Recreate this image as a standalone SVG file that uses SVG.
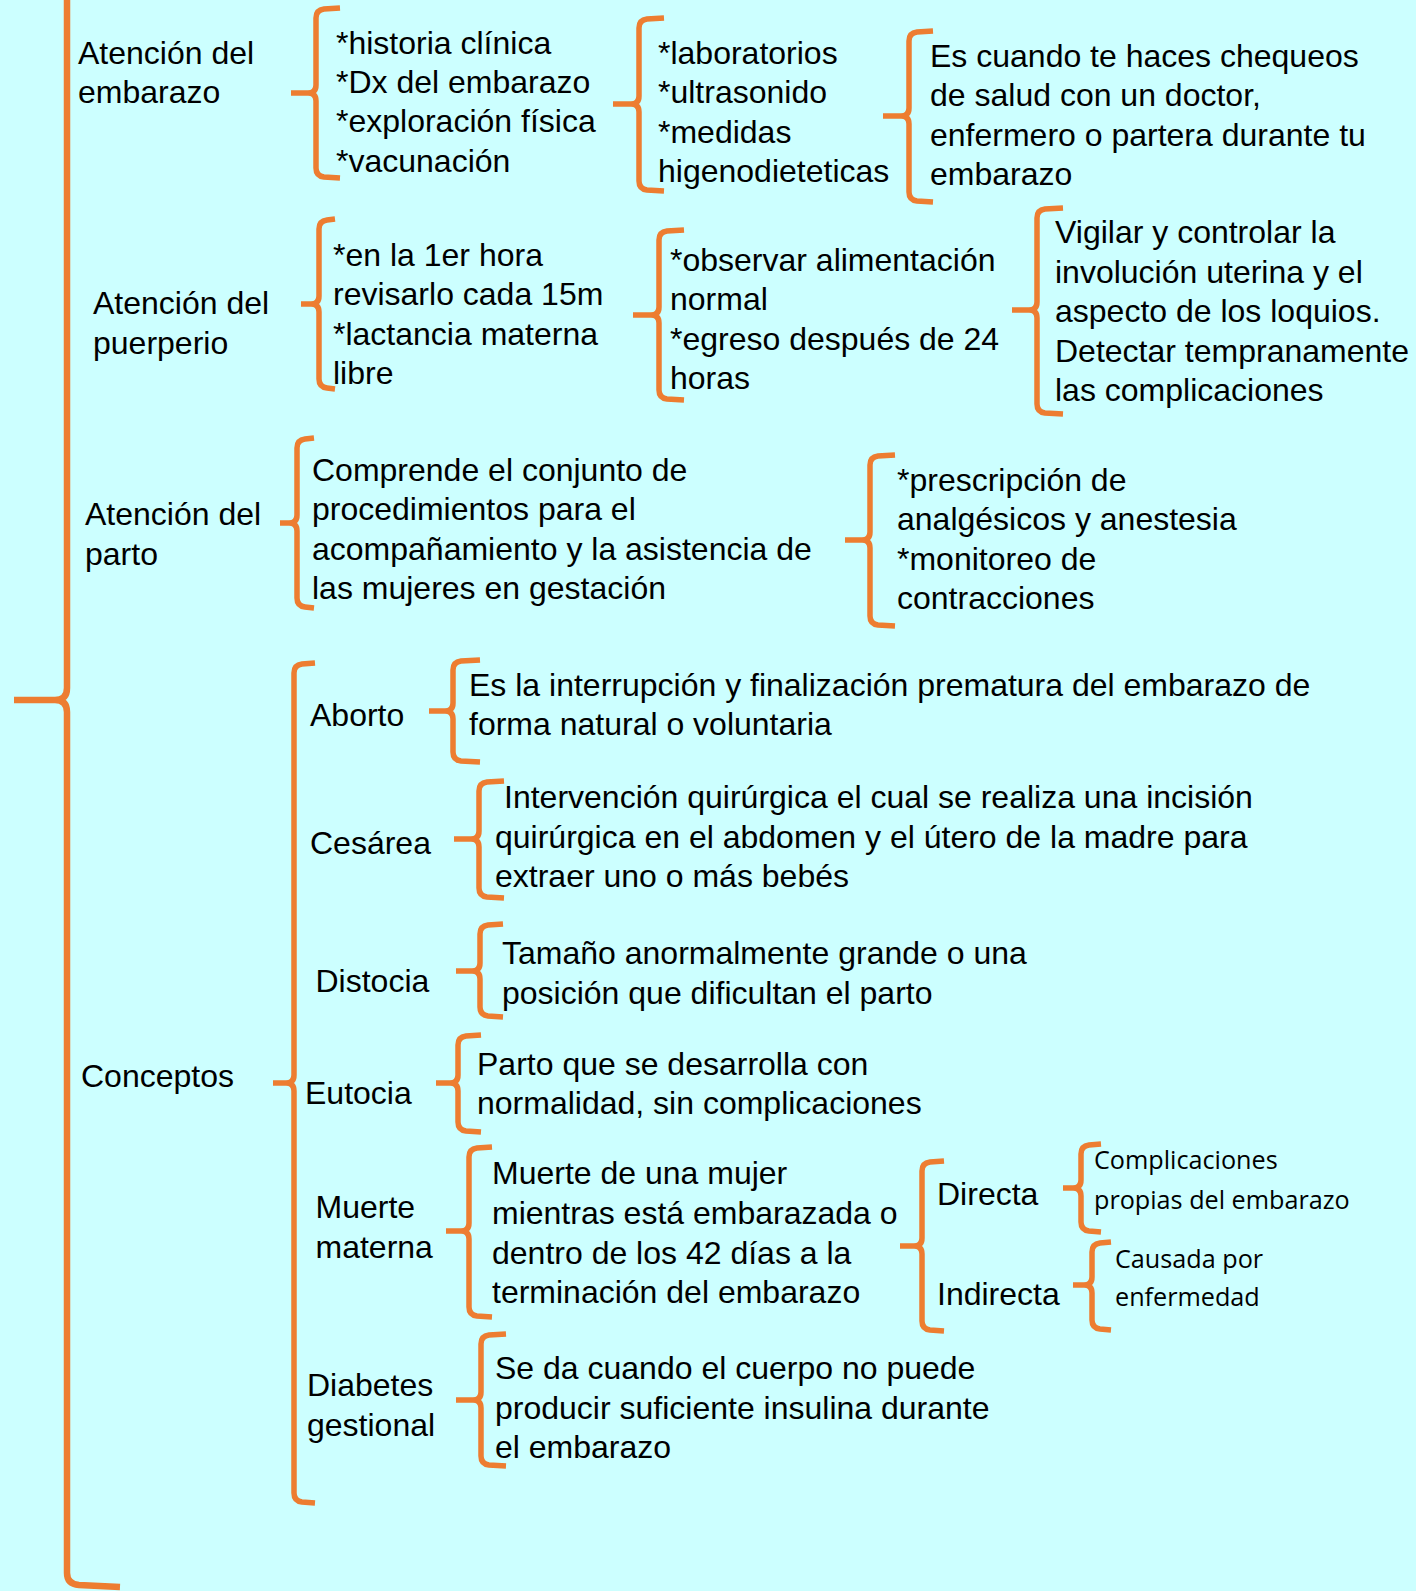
<svg xmlns="http://www.w3.org/2000/svg" width="1416" height="1591" viewBox="0 0 1416 1591">
<style>
.t{font-family:"Liberation Sans",Arial,sans-serif;font-size:32px;fill:#000}
.s{font-family:"Open Sans","Noto Sans",sans-serif;font-size:25.2px;fill:#000}
.b{fill:none;stroke:#ED7D31;stroke-width:5.5}
.m{fill:none;stroke:#ED7D31;stroke-width:6.5}
</style>
<rect x="0" y="0" width="1416" height="1591" fill="#CCFFFF"/>
<g id="connectors">
<path class="m" d="M67 -10 L67 688 Q67 700 55 700 L14 700 M14 700 L55 700 Q67 700 67 712 L67 1573 Q67 1584 79 1585 L120 1587"/>
<path class="b" d="M340 8 L324 9 Q316 10 316 18 L316 85 Q316 93 308 93 L291 93 M291 93 L308 93 Q316 93 316 101 L316 168 Q316 176 324 177 L340 178"/>
<path class="b" d="M664 18 L647 19 Q639 20 639 28 L639 96 Q639 104 631 104 L613 104 M613 104 L631 104 Q639 104 639 112 L639 181 Q639 189 647 190 L664 191"/>
<path class="b" d="M933 31 L917 32 Q909 33 909 41 L909 108 Q909 116 901 116 L883 116 M883 116 L901 116 Q909 116 909 124 L909 192 Q909 200 917 201 L933 202"/>
<path class="b" d="M335 219 L327 220 Q319 221 319 229 L319 296 Q319 304 311 304 L301 304 M301 304 L311 304 Q319 304 319 312 L319 379 Q319 387 327 388 L335 389"/>
<path class="b" d="M684 230 L667 231 Q659 232 659 240 L659 307 Q659 315 651 315 L633 315 M633 315 L651 315 Q659 315 659 323 L659 390 Q659 398 667 399 L684 400"/>
<path class="b" d="M1063 208 L1045 209 Q1037 210 1037 218 L1037 302 Q1037 310 1029 310 L1012 310 M1012 310 L1029 310 Q1037 310 1037 318 L1037 404 Q1037 412 1045 413 L1063 414"/>
<path class="b" d="M314 438 L305 439 Q297 440 297 448 L297 515 Q297 523 289 523 L280 523 M280 523 L289 523 Q297 523 297 531 L297 598 Q297 606 305 607 L314 608"/>
<path class="b" d="M895 455 L878 456 Q870 457 870 465 L870 532 Q870 540 862 540 L845 540 M845 540 L862 540 Q870 540 870 548 L870 616 Q870 624 878 625 L895 626"/>
<path class="b" d="M315 663 L302 664 Q294 665 294 673 L294 1075 Q294 1083 286 1083 L273 1083 M273 1083 L286 1083 Q294 1083 294 1091 L294 1493 Q294 1501 302 1502 L315 1503"/>
<path class="b" d="M480 660 L461 661 Q453 662 453 670 L453 703 Q453 711 445 711 L429 711 M429 711 L445 711 Q453 711 453 719 L453 752 Q453 760 461 761 L480 762"/>
<path class="b" d="M504 781 L487 782 Q479 783 479 791 L479 831 Q479 839 471 839 L454 839 M454 839 L471 839 Q479 839 479 847 L479 888 Q479 896 487 897 L504 898"/>
<path class="b" d="M503 924 L488 925 Q480 926 480 934 L480 963 Q480 971 472 971 L456 971 M456 971 L472 971 Q480 971 480 979 L480 1007 Q480 1015 488 1016 L503 1017"/>
<path class="b" d="M481 1035 L466 1036 Q458 1037 458 1045 L458 1075 Q458 1083 450 1083 L436 1083 M436 1083 L450 1083 Q458 1083 458 1091 L458 1122 Q458 1130 466 1131 L481 1132"/>
<path class="b" d="M492 1147 L477 1148 Q469 1149 469 1157 L469 1223 Q469 1231 461 1231 L446 1231 M446 1231 L461 1231 Q469 1231 469 1239 L469 1307 Q469 1315 477 1316 L492 1317"/>
<path class="b" d="M944 1161 L930 1162 Q922 1163 922 1171 L922 1238 Q922 1246 914 1246 L900 1246 M900 1246 L914 1246 Q922 1246 922 1254 L922 1321 Q922 1329 930 1330 L944 1331"/>
<path class="b" d="M1101 1144 L1089 1145 Q1081 1146 1081 1154 L1081 1180 Q1081 1188 1073 1188 L1063 1188 M1063 1188 L1073 1188 Q1081 1188 1081 1196 L1081 1222 Q1081 1230 1089 1231 L1101 1232"/>
<path class="b" d="M1111 1242 L1100 1243 Q1092 1244 1092 1252 L1092 1277 Q1092 1285 1084 1285 L1073 1285 M1073 1285 L1084 1285 Q1092 1285 1092 1293 L1092 1320 Q1092 1328 1100 1329 L1111 1330"/>
<path class="b" d="M506 1334 L489 1335 Q481 1336 481 1344 L481 1392 Q481 1400 473 1400 L456 1400 M456 1400 L473 1400 Q481 1400 481 1408 L481 1456 Q481 1464 489 1465 L506 1466"/>
</g>
<g id="nodes" transform="translate(0,1.5)">
<g id="atencion-embarazo"><text class="t"><tspan x="78" y="62">Atención del</tspan><tspan x="78" y="101">embarazo</tspan></text></g>
<g id="embarazo-lista1"><text class="t"><tspan x="336" y="52">*historia clínica</tspan><tspan x="336" y="91">*Dx del embarazo</tspan><tspan x="336" y="130.5">*exploración física</tspan><tspan x="336" y="170">*vacunación</tspan></text></g>
<g id="embarazo-lista2"><text class="t"><tspan x="658" y="62">*laboratorios</tspan><tspan x="658" y="101">*ultrasonido</tspan><tspan x="658" y="141">*medidas</tspan><tspan x="658" y="180.5">higenodieteticas</tspan></text></g>
<g id="embarazo-desc"><text class="t"><tspan x="930" y="65">Es cuando te haces chequeos</tspan><tspan x="930" y="104.5">de salud con un doctor,</tspan><tspan x="930" y="144">enfermero o partera durante tu</tspan><tspan x="930" y="183">embarazo</tspan></text></g>
<g id="atencion-puerperio"><text class="t"><tspan x="93" y="312">Atención del</tspan><tspan x="93" y="352">puerperio</tspan></text></g>
<g id="puerperio-lista1"><text class="t"><tspan x="333" y="264">*en la 1er hora</tspan><tspan x="333" y="303">revisarlo cada 15m</tspan><tspan x="333" y="343">*lactancia materna</tspan><tspan x="333" y="382">libre</tspan></text></g>
<g id="puerperio-lista2"><text class="t"><tspan x="670" y="269">*observar alimentación</tspan><tspan x="670" y="308">normal</tspan><tspan x="670" y="348">*egreso después de 24</tspan><tspan x="670" y="387">horas</tspan></text></g>
<g id="puerperio-desc"><text class="t"><tspan x="1055" y="241">Vigilar y controlar la</tspan><tspan x="1055" y="281">involución uterina y el</tspan><tspan x="1055" y="320.5">aspecto de los loquios.</tspan><tspan x="1055" y="360">Detectar tempranamente</tspan><tspan x="1055" y="399.5">las complicaciones</tspan></text></g>
<g id="atencion-parto"><text class="t"><tspan x="85" y="523">Atención del</tspan><tspan x="85" y="563">parto</tspan></text></g>
<g id="parto-desc"><text class="t"><tspan x="312" y="479">Comprende el conjunto de</tspan><tspan x="312" y="518">procedimientos para el</tspan><tspan x="312" y="558">acompañamiento y la asistencia de</tspan><tspan x="312" y="597">las mujeres en gestación</tspan></text></g>
<g id="parto-lista"><text class="t"><tspan x="897" y="489">*prescripción de</tspan><tspan x="897" y="528">analgésicos y anestesia</tspan><tspan x="897" y="568">*monitoreo de</tspan><tspan x="897" y="607.5">contracciones</tspan></text></g>
<g id="conceptos"><text class="t" x="81" y="1085">Conceptos</text></g>
<g id="aborto"><text class="t" x="310" y="724">Aborto</text></g>
<g id="aborto-desc"><text class="t"><tspan x="469" y="694">Es la interrupción y finalización prematura del embarazo de</tspan><tspan x="469" y="733">forma natural o voluntaria</tspan></text></g>
<g id="cesarea"><text class="t" x="310" y="852">Cesárea</text></g>
<g id="cesarea-desc"><text class="t"><tspan x="504" y="806">Intervención quirúrgica el cual se realiza una incisión</tspan><tspan x="495" y="846">quirúrgica en el abdomen y el útero de la madre para</tspan><tspan x="495" y="885.5">extraer uno o más bebés</tspan></text></g>
<g id="distocia"><text class="t" x="315.5" y="990">Distocia</text></g>
<g id="distocia-desc"><text class="t"><tspan x="502" y="962.5">Tamaño anormalmente grande o una</tspan><tspan x="502" y="1002">posición que dificultan el parto</tspan></text></g>
<g id="eutocia"><text class="t" x="305" y="1102">Eutocia</text></g>
<g id="eutocia-desc"><text class="t"><tspan x="477" y="1073">Parto que se desarrolla con</tspan><tspan x="477" y="1112.5">normalidad, sin complicaciones</tspan></text></g>
<g id="muerte-materna"><text class="t"><tspan x="315.5" y="1216">Muerte</tspan><tspan x="315.5" y="1256">materna</tspan></text></g>
<g id="muerte-desc"><text class="t"><tspan x="492" y="1182.5">Muerte de una mujer</tspan><tspan x="492" y="1222">mientras está embarazada o</tspan><tspan x="492" y="1262">dentro de los 42 días a la</tspan><tspan x="492" y="1301">terminación del embarazo</tspan></text></g>
<g id="directa"><text class="t" x="937" y="1203">Directa</text></g>
<g id="indirecta"><text class="t" x="937" y="1303">Indirecta</text></g>
<g id="directa-desc"><text class="s"><tspan x="1094" y="1167">Complicaciones</tspan><tspan x="1094" y="1207">propias del embarazo</tspan></text></g>
<g id="indirecta-desc"><text class="s"><tspan x="1115" y="1266">Causada por</tspan><tspan x="1115" y="1304">enfermedad</tspan></text></g>
<g id="diabetes"><text class="t"><tspan x="307" y="1394.5">Diabetes</tspan><tspan x="307" y="1434">gestional</tspan></text></g>
<g id="diabetes-desc"><text class="t"><tspan x="495" y="1377">Se da cuando el cuerpo no puede</tspan><tspan x="495" y="1417">producir suficiente insulina durante</tspan><tspan x="495" y="1456">el embarazo</tspan></text></g>
</g>
</svg>
